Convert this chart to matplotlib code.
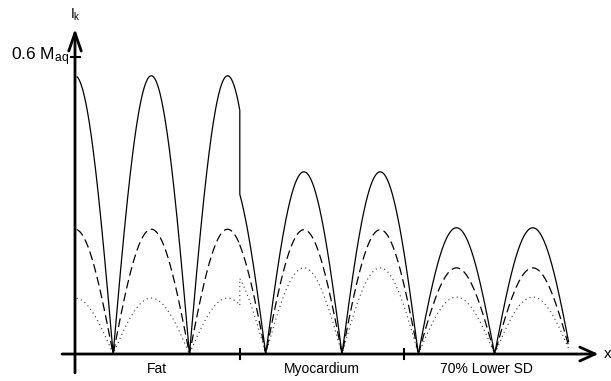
import numpy as np
import matplotlib
matplotlib.use("Agg")
import matplotlib.pyplot as plt

plt.rcParams['font.family'] = ['Liberation Sans', 'DejaVu Sans']

# regions along x (x measured in arch periods, y axis at x=0)
regions = ["Fat", "Myocardium", "70% Lower SD"]
region_ticks = [0.0, 2.16, 4.31, 6.47]
# where the curve amplitude actually changes
amp_edges = [0.0, 2.16, 4.5, 6.47]

# peak heights per region, in units of M_aq
solid_amp = [0.562, 0.368, 0.255]
dashed_amp = [0.252, 0.251, 0.174]
dotted_amp = [0.113, 0.174, 0.115]

ytick_val = 0.6

fig = plt.figure(figsize=(6.11, 3.81), dpi=100)
ax = fig.add_axes([0, 0, 1, 1])
ax.set_xlim(-0.983, 7.025)
ax.set_ylim(-0.0545, 0.715)
ax.axis('off')

def draw_curve(amps, **kw):
    # each region: |cos| arches scaled to that region's peak height
    for i in range(len(amps)):
        xs = np.linspace(amp_edges[i], amp_edges[i + 1], 400)
        ys = amps[i] * np.abs(np.cos(np.pi * xs))
        if i > 0:
            # vertical step at the boundary
            xb = amp_edges[i]
            yb0 = amps[i - 1] * abs(np.cos(np.pi * xb))
            xs = np.concatenate([[xb], xs])
            ys = np.concatenate([[yb0], ys])
        if i == 0:
            xs = xs[xs > 0.02]
            ys = amps[i] * np.abs(np.cos(np.pi * xs))
        ax.plot(xs, ys, color='black', solid_capstyle='butt', **kw)

draw_curve(solid_amp, lw=0.9)
draw_curve(dashed_amp, lw=0.9, linestyle=(0, (7, 3.5)))
draw_curve(dotted_amp, lw=0.8, linestyle=(0, (1, 3)), alpha=0.8)

# axes with open arrow heads
ax.annotate('', xy=(0, 0.657), xytext=(0, -0.038),
            arrowprops=dict(arrowstyle='->,head_length=1.3,head_width=0.45',
                            lw=2, color='black', shrinkA=0, shrinkB=0))
ax.annotate('', xy=(6.86, 0.0), xytext=(-0.17, 0.0),
            arrowprops=dict(arrowstyle='->,head_length=1.1,head_width=0.5',
                            lw=2, color='black', shrinkA=0, shrinkB=0))

# ticks
for xt in region_ticks[1:3]:
    ax.plot([xt, xt], [-0.01, 0.01], color='black', lw=1.5)
ax.plot([-0.05, 0.06], [ytick_val, ytick_val], color='black', lw=1.5)

ax.text(-0.07, ytick_val, '0.6 M$\\mathregular{_{aq}}$', ha='right', va='center',
        fontsize=12.5)
ax.text(0.0, 0.685, 'I$\\mathregular{_k}$', ha='center', va='center', fontsize=10)
ax.text(6.93, 0.0, 'x', ha='left', va='center', fontsize=11)

for i, name in enumerate(regions):
    xc = (region_ticks[i] + region_ticks[i + 1]) / 2
    ax.text(xc, -0.031, name, ha='center', va='center', fontsize=10)

fig.savefig('out.png', dpi=100)
